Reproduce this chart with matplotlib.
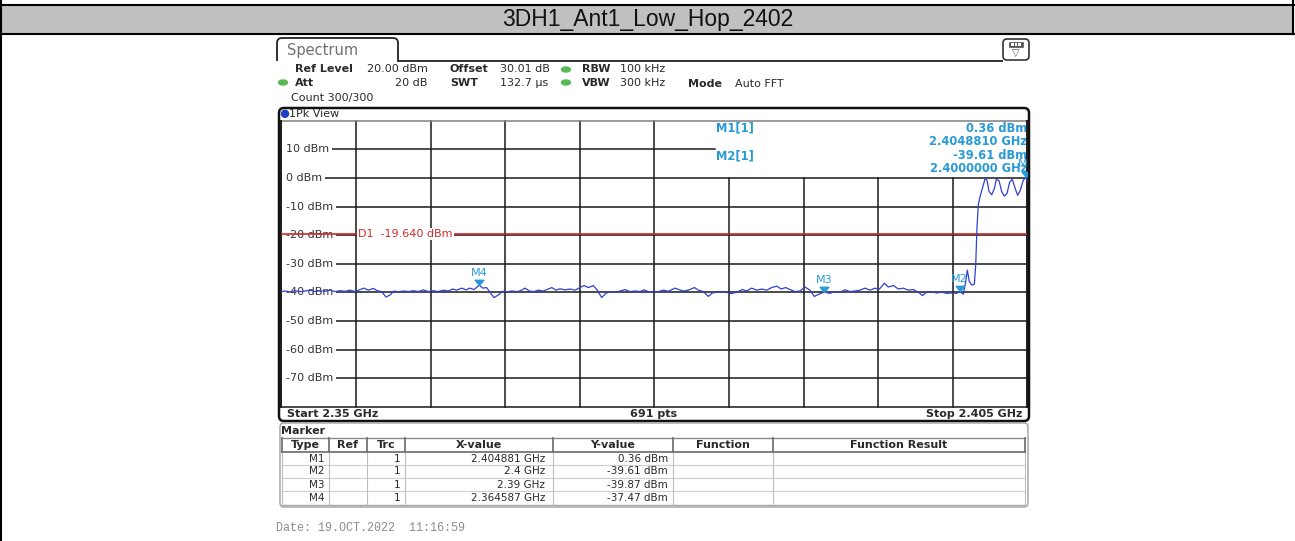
import numpy as np
import matplotlib
matplotlib.use("Agg")
import matplotlib.pyplot as plt
from matplotlib.patches import FancyBboxPatch, Rectangle, Ellipse, PathPatch
from matplotlib.path import Path

# sweep settings
start_mhz = 2350.0
stop_mhz = 2405.0
ref_level = 20
level_lines = [10, 0, -10, -20, -30, -40, -50, -60, -70]
d1_level = -19.64

# trace (MHz, dBm)
trace_mhz = [
    2350.00, 2350.27, 2350.63, 2351.00, 2351.37, 2351.74, 2352.11, 2352.48, 2352.85, 2353.21,
    2353.58, 2353.95, 2354.32, 2354.69, 2355.06, 2355.43, 2355.80, 2356.09, 2356.41, 2356.78,
    2357.07, 2357.39, 2357.71, 2358.01, 2358.30, 2358.62, 2358.99, 2359.36, 2359.73, 2360.10,
    2360.47, 2360.83, 2361.20, 2361.57, 2361.94, 2362.31, 2362.63, 2362.92, 2363.29, 2363.61,
    2363.90, 2364.20, 2364.587, 2364.84, 2365.13, 2365.43, 2365.67, 2365.99, 2366.31, 2366.61,
    2366.98, 2367.35, 2367.64, 2367.96, 2368.28, 2368.62, 2368.94, 2369.31, 2369.68, 2369.93,
    2370.25, 2370.54, 2370.91, 2371.28, 2371.65, 2372.02, 2372.31, 2372.63, 2373.00, 2373.29,
    2373.61, 2373.93, 2374.23, 2374.60, 2374.97, 2375.33, 2375.70, 2376.07, 2376.44, 2376.74,
    2377.05, 2377.42, 2377.79, 2378.16, 2378.53, 2379.02, 2379.31, 2379.63, 2380.00, 2380.45,
    2380.74, 2381.11, 2381.48, 2381.77, 2382.09, 2382.46, 2382.83, 2383.20, 2383.57, 2383.98,
    2384.30, 2384.67, 2385.04, 2385.41, 2385.78, 2386.15, 2386.52, 2386.84, 2387.18, 2387.50,
    2387.87, 2388.24, 2388.60, 2388.97, 2389.29, 2389.64, 2390.00, 2390.45, 2390.82, 2391.19,
    2391.55, 2391.92, 2392.29, 2392.66, 2393.03, 2393.40, 2393.77, 2394.06, 2394.45, 2394.75,
    2395.12, 2395.49, 2395.85, 2396.22, 2396.59, 2396.96, 2397.26, 2397.57, 2397.94, 2398.31,
    2398.68, 2399.05, 2399.42, 2399.79, 2400.00, 2400.28, 2400.45, 2400.57, 2400.72, 2400.89,
    2401.09, 2401.19, 2401.28, 2401.38, 2401.51, 2401.68, 2401.88, 2402.02, 2402.17, 2402.37,
    2402.56, 2402.71, 2402.91, 2403.10, 2403.30, 2403.50, 2403.69, 2403.89, 2404.09, 2404.28,
    2404.48, 2404.68, 2404.881, 2405.00]
trace_dbm = [
    -39.7, -39.5, -39.8, -39.4, -39.7, -39.5, -39.2, -39.7, -39.4, -39.6,
    -39.2, -39.7, -39.4, -39.6, -39.2, -39.7, -39.0, -38.5, -39.2, -38.6,
    -39.4, -39.7, -41.6, -40.9, -39.5, -39.8, -39.5, -39.7, -39.4, -39.7,
    -39.1, -39.7, -39.4, -39.7, -39.2, -39.5, -38.8, -39.2, -38.5, -39.1,
    -38.5, -39.0, -37.47, -38.5, -38.3, -40.3, -41.8, -40.9, -39.6, -39.8,
    -39.5, -39.7, -39.4, -38.5, -39.5, -39.7, -39.2, -39.5, -38.8, -38.3,
    -39.2, -38.7, -39.1, -38.8, -39.2, -38.3, -37.6, -38.3, -37.6, -39.2,
    -41.8, -40.3, -39.7, -39.9, -39.5, -39.0, -39.7, -39.5, -39.7, -39.1,
    -39.7, -39.8, -39.7, -39.2, -39.6, -38.5, -39.0, -39.5, -39.2, -38.3,
    -39.2, -39.7, -41.4, -40.2, -39.9, -39.7, -40.0, -40.4, -39.9, -39.0,
    -39.5, -38.5, -39.2, -38.8, -39.2, -38.3, -37.8, -38.8, -38.3, -39.0,
    -39.7, -39.5, -38.1, -39.2, -41.4, -40.6, -39.87, -40.3, -39.7, -39.9,
    -39.1, -39.7, -39.5, -39.2, -38.5, -39.2, -38.5, -39.0, -36.8, -38.1,
    -37.6, -38.8, -38.5, -39.2, -39.0, -39.9, -41.1, -39.9, -39.7, -40.2,
    -39.9, -40.3, -40.2, -40.3, -39.61, -40.6, -36.2, -32.2, -36.2, -37.4,
    -37.1, -30.4, -17.5, -9.4, -6.5, -3.6, -0.3, -0.8, -4.7, -5.9,
    -3.8, -0.5, -1.0, -4.7, -6.4, -5.4, -1.5, -0.5, -3.6, -6.1,
    -4.3, -1.0, 0.36, -1.2]

# marker table
marker_names = ["M1", "M2", "M3", "M4"]
marker_trc = [1, 1, 1, 1]
marker_ghz = [2.404881, 2.4, 2.39, 2.364587]
marker_dbm = [0.36, -39.61, -39.87, -37.47]

table_cols = ["Type", "Ref", "Trc", "X-value", "Y-value", "Function", "Function Result"]


def ghz_text(v):
    return f"{v:.6f}".rstrip("0").rstrip(".") + " GHz"


W, H = 1295, 541
fig = plt.figure(figsize=(W / 100, H / 100), dpi=100)

# page layer in pixel coordinates (y down)
page = fig.add_axes([0, 0, 1, 1])
page.set_xlim(0, W)
page.set_ylim(H, 0)
page.axis("off")

TXT = "#2a2a2a"
MK = "#2a9ad6"
GREEN = "#58b858"
FS = 8

# table cell title band
page.add_patch(Rectangle((1, 5), W - 3, 28.5, facecolor="#c0c0c0", edgecolor="none"))
page.plot([0, W], [5, 5], color="k", lw=1.5)
page.plot([0, W], [33.5, 33.5], color="k", lw=1.5)
page.plot([1, 1], [0, H], color="k", lw=1.5)
page.plot([W - 2, W - 2], [0, 34], color="k", lw=1.5)
page.text(648, 19.5, "3DH1_Ant1_Low_Hop_2402", ha="center", va="center",
          fontsize=16.5, family="Liberation Sans", color="#111111")

# "Spectrum" tab and header rule
tab = Path([(277, 61), (277, 43), (277, 38), (282, 38), (393, 38), (398, 38),
            (398, 43), (398, 61), (1003, 61)],
           [Path.MOVETO, Path.LINETO, Path.CURVE3, Path.CURVE3, Path.LINETO,
            Path.CURVE3, Path.CURVE3, Path.LINETO, Path.LINETO])
page.add_patch(PathPatch(tab, facecolor="none", edgecolor="#222222", lw=1.3))
page.text(287, 50, "Spectrum", fontsize=10.5, color="#707070", va="center")

# small icon top right
page.add_patch(FancyBboxPatch((1003, 39), 26, 21, boxstyle="round,pad=0,rounding_size=4",
                              facecolor="white", edgecolor="#333333", lw=1.2))
page.add_patch(Rectangle((1009, 42), 14, 5, facecolor="#555555", edgecolor="#555555", lw=0.5))
for xs in (1012.5, 1016, 1019.5):
    page.add_patch(Rectangle((xs - 1.2, 43.2), 2.4, 2.6, facecolor="white", edgecolor="none"))
page.text(1016, 52.5, "\u25bd", fontsize=7, ha="center", va="center", color="#555555")

# instrument settings
row1, row2, row3 = 69.5, 82.5, 97.5
page.text(295, row1, "Ref Level", fontsize=FS, fontweight="bold", color=TXT, va="center")
page.text(367, row1, "20.00 dBm", fontsize=FS, color=TXT, va="center")
page.text(450, row1, "Offset", fontsize=FS, fontweight="bold", color=TXT, va="center")
page.text(500, row1, "30.01 dB", fontsize=FS, color=TXT, va="center")
page.add_patch(Ellipse((566, row1), 9, 5, color=GREEN))
page.text(582, row1, "RBW", fontsize=FS, fontweight="bold", color=TXT, va="center")
page.text(620, row1, "100 kHz", fontsize=FS, color=TXT, va="center")

page.add_patch(Ellipse((283, row2), 9, 5, color=GREEN))
page.text(295, row2, "Att", fontsize=FS, fontweight="bold", color=TXT, va="center")
page.text(427, row2, "20 dB", fontsize=FS, color=TXT, va="center", ha="right")
page.text(450, row2, "SWT", fontsize=FS, fontweight="bold", color=TXT, va="center")
page.text(500, row2, "132.7 \u00b5s", fontsize=FS, color=TXT, va="center")
page.add_patch(Ellipse((566, row2), 9, 5, color=GREEN))
page.text(582, row2, "VBW", fontsize=FS, fontweight="bold", color=TXT, va="center")
page.text(620, row2, "300 kHz", fontsize=FS, color=TXT, va="center")
page.text(688, row2 + 1.5, "Mode", fontsize=FS, fontweight="bold", color=TXT, va="center")
page.text(735, row2 + 1.5, "Auto FFT", fontsize=FS, color=TXT, va="center")
page.text(291, row3, "Count 300/300", fontsize=FS, color=TXT, va="center")

# window frame
page.add_patch(FancyBboxPatch((279, 108), 750, 313, boxstyle="round,pad=0,rounding_size=5",
                              facecolor="none", edgecolor="#111111", lw=1.8))
page.add_patch(Ellipse((285, 113.8), 7, 7, color="#1f3fbf"))
page.text(289, 113.8, "1Pk View", fontsize=FS, color=TXT, va="center")
page.text(287, 414, "Start 2.35 GHz", fontsize=FS, fontweight="bold", color=TXT, va="center")
page.text(654, 414, "691 pts", fontsize=FS, fontweight="bold", color=TXT, va="center", ha="center")
page.text(1022, 414, "Stop 2.405 GHz", fontsize=FS, fontweight="bold", color=TXT, va="center", ha="right")

# marker readout above the grid
info = [("M1[1]", f"{marker_dbm[0]:.2f} dBm", f"{marker_ghz[0]:.7f} GHz"),
        ("M2[1]", f"{marker_dbm[1]:.2f} dBm", f"{marker_ghz[1]:.7f} GHz")]
for k, (lab, lvl, frq) in enumerate(info):
    y0 = 128 + k * 27.5
    page.text(716, y0, lab, fontsize=8.3, fontweight="bold", color=MK, va="center")
    page.text(1027, y0, lvl, fontsize=8.3, fontweight="bold", color=MK, va="center", ha="right")
    page.text(1027, y0 + 13.5, frq, fontsize=8.3, fontweight="bold", color=MK, va="center", ha="right")

# spectrum grid
ax = fig.add_axes([281.4 / W, 1 - 407 / H, 746 / W, 286.4 / H])
ax.set_xlim(start_mhz, stop_mhz)
ax.set_ylim(-80, ref_level)
ax.axis("off")

span = stop_mhz - start_mhz
box_left = start_mhz + span * (715 - 281.4) / 746
for i in range(11):
    f = start_mhz + span * i / 10
    top = 0 if (f > box_left and i < 10) else ref_level
    edge = i in (0, 10)
    ax.plot([f, f], [-80, top], color="#1a1a1a", lw=1.4 if edge else 1.1,
            zorder=2.5 if edge else 1, clip_on=False)
for lvl in range(-80, ref_level + 1, 10):
    right = box_left if lvl == 10 else stop_mhz
    col = "#808080" if lvl == ref_level else "#1a1a1a"
    ax.plot([start_mhz, right], [lvl, lvl], color=col, lw=1.1, zorder=1, clip_on=False)

ytr = ax.get_yaxis_transform()
for lvl in level_lines:
    ax.text(0.0055, lvl, f"{lvl} dBm", transform=ytr, fontsize=FS, color="#333333",
            va="center", ha="left", zorder=2,
            bbox=dict(facecolor="white", edgecolor="none", pad=2.6))

# display line D1
ax.axhline(d1_level, color="#d02a2a", lw=1.2, zorder=3)
ax.text(start_mhz + span * (358 - 281.4) / 746, d1_level, f"D1  {d1_level:.3f} dBm",
        fontsize=FS, color="#d02a2a", va="center", ha="left", zorder=4,
        bbox=dict(facecolor="white", edgecolor="none", pad=1.0))

# trace
ax.plot(trace_mhz, trace_dbm, color="#3040d0", lw=0.9, zorder=5, clip_on=False)

# markers: down triangles with tip on the trace
tri = Path([(-1, 1.2), (1, 1.2), (0, 0), (-1, 1.2)],
           [Path.MOVETO, Path.LINETO, Path.LINETO, Path.CLOSEPOLY])
for name, g, lvl in zip(marker_names, marker_ghz, marker_dbm):
    ax.plot([g * 1000], [lvl], marker=tri, markersize=7.5, color=MK, zorder=6, clip_on=True)
    ax.annotate(name, xy=(g * 1000, lvl), xytext=(0, 9), textcoords="offset points",
                ha="center", va="center", fontsize=FS, color=MK, zorder=6, clip_on=True)

# marker table panel
page.add_patch(FancyBboxPatch((280, 423), 748, 84, boxstyle="round,pad=0,rounding_size=4",
                              facecolor="white", edgecolor="#a0a0a0", lw=1.0))
page.text(281, 430.5, "Marker", fontsize=FS, fontweight="bold", color=TXT, va="center")

col_x = [282, 329, 367, 405, 553, 673, 773, 1025]
row_y = [438, 452, 465, 478, 491, 504.5]
page.plot([col_x[0], col_x[-1]], [row_y[0], row_y[0]], color="#8a8a8a", lw=1.0)
page.plot([col_x[0], col_x[-1]], [row_y[1], row_y[1]], color="#6a6a6a", lw=1.2)
for y in row_y[2:-1]:
    page.plot([col_x[0], col_x[-1]], [y, y], color="#cfcfcf", lw=0.8)
page.plot([col_x[0], col_x[-1]], [row_y[-1], row_y[-1]], color="#a8a8a8", lw=1.0)
for k, x in enumerate(col_x):
    page.plot([x, x], [row_y[1], row_y[-1]], color="#bdbdbd", lw=0.8)
    page.plot([x, x], [row_y[0], row_y[1]], color="#6a6a6a", lw=1.2)

hy = (row_y[0] + row_y[1]) / 2
for k, name in enumerate(table_cols):
    cx = (col_x[k] + col_x[k + 1]) / 2
    page.text(cx, hy, name, fontsize=FS, fontweight="bold", color=TXT, ha="center", va="center")

for r, (name, trc, g, lvl) in enumerate(zip(marker_names, marker_trc, marker_ghz, marker_dbm)):
    ry = (row_y[r + 1] + row_y[r + 2]) / 2
    page.text(col_x[1] - 4, ry, name, fontsize=7.5, color=TXT, ha="right", va="center")
    page.text(col_x[3] - 5, ry, str(trc), fontsize=7.5, color=TXT, ha="right", va="center")
    page.text(col_x[4] - 8, ry, ghz_text(g), fontsize=7.5, color=TXT, ha="right", va="center")
    page.text(col_x[5] - 5, ry, f"{lvl:.2f} dBm", fontsize=7.5, color=TXT, ha="right", va="center")

page.text(276, 528, "Date: 19.OCT.2022  11:16:59", family="Liberation Mono", fontsize=8.5,
          color="#8c8c8c", va="center")

fig.savefig("out.png", dpi=100)
